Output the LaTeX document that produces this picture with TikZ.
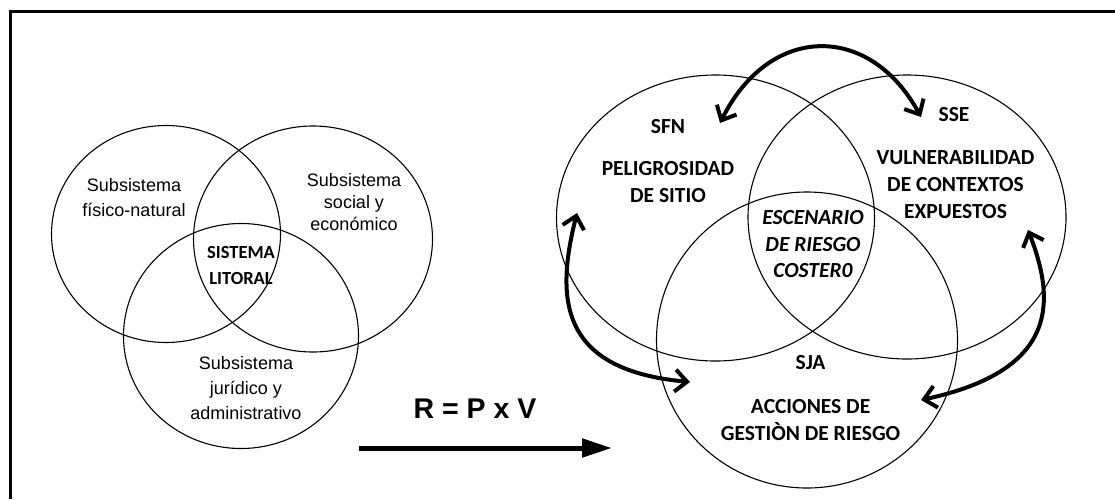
\documentclass[tikz,border=0pt]{standalone}
\usepackage{fontspec}
\setmainfont{Liberation Sans}
\newfontfamily\calibri{Carlito}
\usetikzlibrary{arrows.meta,shapes.geometric}

\begin{document}
\begin{tikzpicture}[
  x=1pt,y=-1pt,
  ring/.style={ellipse,draw=black,line width=1.1pt,inner sep=0pt},
  subtext/.style={align=center,inner sep=0pt,
    font=\fontsize{18}{25}\selectfont},
  core/.style={align=center,inner sep=0pt,
    font=\calibri\bfseries\fontsize{21.5}{27}\selectfont},
  link/.style={{Straight Barb[length=12pt,width=22pt]}-{Straight Barb[length=12pt,width=22pt]},
    line width=4pt},
  flow/.style={-{Triangle[length=30pt,width=18pt]},line width=5pt}
]
\useasboundingbox (0,0) rectangle (1115,499);
\draw[line width=3pt] (10.5,499) -- (10.5,11.7) -- (1115,11.7);
\node[ring,minimum width=229pt,minimum height=217pt] (fn) at (166,234) {};
\node[ring,minimum width=239pt,minimum height=226pt] (se) at (313,239) {};
\node[ring,minimum width=235pt,minimum height=225pt] (ja) at (241,336) {};
\node[subtext] (fntext) at (134,198) {Subsistema\\físico-natural};
\node[subtext,font=\fontsize{18}{22}\selectfont] (setext) at (354,202)
  {Subsistema\\social y\\económico};
\node[core,font=\calibri\bfseries\fontsize{18.5}{26}\selectfont] (litoral) at (241,265)
  {SISTEMA\\LITORAL};
\node[subtext] (jatext) at (246,388) {Subsistema\\jurídico y\\administrativo};
\node[font=\bfseries\fontsize{28.5}{30}\selectfont,inner sep=0pt] (eq) at (475,409)
  {R = P x V};
\coordinate (flowA) at (359,448);
\coordinate (flowB) at (612,448);
\draw[flow] (flowA) -- (flowB);
\node[ring,minimum width=318pt,minimum height=286pt] (sfn) at (715.5,218) {};
\node[ring,minimum width=318pt,minimum height=284pt] (sse) at (907,217) {};
\node[ring,minimum width=301pt,minimum height=296pt] (sja) at (807,340) {};
\node[core] (sfnlab) at (668,127) {SFN};
\node[core] (peligro) at (668,182.5) {PELIGROSIDAD\\DE SITIO};
\node[core] (sselab) at (954,115) {SSE};
\node[core] (vulner) at (955.5,185) {VULNERABILIDAD\\DE CONTEXTOS\\EXPUESTOS};
\node[core,font=\calibri\bfseries\itshape\fontsize{21.5}{26.5}\selectfont] (escena)
  at (813,244.5) {ESCENARIO\\DE RIESGO\\COSTER0};
\node[core] (sjalab) at (810.6,363) {SJA};
\node[core] (acciones) at (810.6,420.5) {ACCIONES DE\\GESTIÒN DE RIESGO};
\coordinate (topL) at (720,123);
\coordinate (topR) at (921,117);
\coordinate (sideLtop) at (577,213);
\coordinate (sideLbot) at (690,382);
\coordinate (sideRtop) at (1028,230);
\coordinate (sideRbot) at (921,400);
\draw[link] (topL) .. controls (770,23) and (870,23) .. (topR);
\draw[link] (sideLtop) .. controls (555,300) and (560,370) .. (sideLbot);
\draw[link] (sideRtop) .. controls (1055,300) and (1060,370) .. (sideRbot);
\end{tikzpicture}
\end{document}
